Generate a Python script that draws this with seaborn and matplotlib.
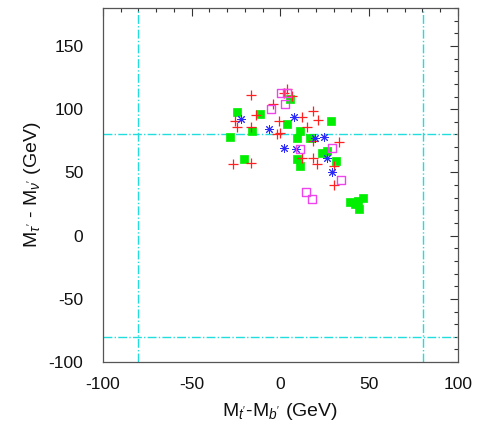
import matplotlib
matplotlib.use('Agg')
import matplotlib.pyplot as plt
import pandas as pd
import seaborn as sns
from matplotlib.ticker import MultipleLocator

# mass splittings (GeV)
green_x = [-24.5, -11.5, 5.4, 3.7, -16.1, -28.5, -20.6, 9.3, 16.6, 11.0,
           28.5, 26.2, 23.4, 9.3, 11.0, 31.3, 39.2, 42.0, 43.9, 46.5, 44.2]
green_y = [98.1, 96.5, 108.4, 88.6, 83.1, 78.3, 60.9, 77.5, 77.5, 83.1,
           91.0, 67.2, 65.7, 60.9, 55.4, 59.3, 26.9, 25.3, 27.7, 30.1, 21.4]

red_x = [-16.6, 3.7, 2.0, 6.5, -4.2, -13.8, -25.6, -24.5, -16.6, -0.8,
         -0.3, -2.0, 18.3, 12.1, 21.1, 14.9, 33.0, 18.3, 12.1, 18.3,
         20.6, 30.1, 30.1, -26.8, -16.6]
red_y = [111.6, 116.3, 113.1, 110.8, 104.4, 95.7, 91.0, 86.2, 86.2, 91.0,
         81.5, 80.7, 98.9, 94.1, 91.8, 86.2, 74.4, 75.2, 61.7, 61.7,
         57.0, 55.4, 40.3, 57.0, 57.8]

blue_x = [-22.3, -6.5, 7.6, 2.0, 19.4, 24.5, 8.7, 26.2, 29.0]
blue_y = [92.6, 84.7, 94.1, 69.6, 77.5, 78.3, 68.8, 61.7, 50.6]

mag_x = [0.3, 3.7, 2.5, -5.4, 11.0, 29.0, 34.1, 14.4, 17.7]
mag_y = [113.1, 113.1, 104.4, 100.5, 68.8, 69.6, 44.3, 34.8, 29.3]

M_W = 80.4

sns.set_style('white')
plt.rcParams['font.family'] = ['Liberation Sans', 'DejaVu Sans']
plt.rcParams['mathtext.fontset'] = 'custom'
plt.rcParams['mathtext.rm'] = 'Liberation Sans'
plt.rcParams['mathtext.it'] = 'Liberation Sans:italic'
plt.rcParams['axes.unicode_minus'] = False

fig = plt.figure(figsize=(4.81, 4.24), dpi=100)
ax = fig.add_axes([0.214, 0.146, 0.738, 0.835])

# W-mass boundaries
cyan = '#22dddd'
for v in (-M_W, M_W):
    ax.axvline(v, color=cyan, ls='-.', lw=1.0, zorder=1)
    ax.axhline(v, color=cyan, ls='-.', lw=1.0, zorder=1)

sns.scatterplot(x=green_x, y=green_y, ax=ax, marker='s', s=34,
                color='#00ee00', edgecolor='#00ee00', linewidth=0.5, zorder=3)
sns.scatterplot(x=red_x, y=red_y, ax=ax, marker='+', s=45,
                color='#ff2020', linewidth=0.9, zorder=4)
sns.scatterplot(x=blue_x, y=blue_y, ax=ax, marker=(8, 2, 0), s=32,
                color='#2a2aff', edgecolor='#2a2aff', linewidth=0.7, zorder=4)
sns.scatterplot(x=mag_x, y=mag_y, ax=ax, marker='s', s=32,
                facecolor='none', edgecolor='#ee44ee', linewidth=1.0, zorder=4)

ax.set_xlim(-100, 100)
ax.set_ylim(-100, 180)
ax.xaxis.set_major_locator(MultipleLocator(50))
ax.xaxis.set_minor_locator(MultipleLocator(10))
ax.yaxis.set_major_locator(MultipleLocator(50))
ax.yaxis.set_minor_locator(MultipleLocator(10))
ax.set_yticks([-100, -50, 0, 50, 100, 150])
ax.tick_params(which='both', direction='in', top=True, right=True,
               color='#333333', labelsize=12.5, labelcolor='#111111')
ax.tick_params(which='major', length=6, width=0.8)
ax.tick_params(axis='x', which='major', pad=11)
ax.tick_params(axis='y', which='major', pad=14)
ax.tick_params(which='minor', length=3, width=0.8)
for s in ax.spines.values():
    s.set_color('#555555')
    s.set_linewidth(0.9)

ax.set_xlabel(r"M$_{t'}$-M$_{b'}$ (GeV)", fontsize=14, color='#111111', labelpad=6)
ax.set_ylabel(r"M$_{\tau'}$ - M$_{\nu'}$ (GeV)", fontsize=14, color='#111111', labelpad=4)

fig.savefig('out.png', dpi=100)
